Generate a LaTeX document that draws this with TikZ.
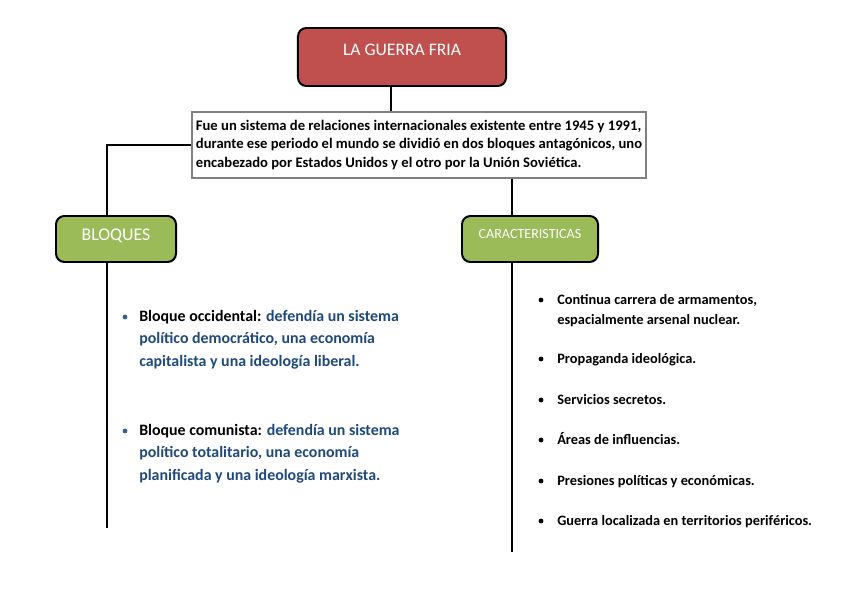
\documentclass[tikz,border=0pt]{standalone}
\usepackage{fontspec}
\setmainfont{Carlito}
\usepackage{tikz}
\usetikzlibrary{positioning}
\definecolor{guerrared}{RGB}{192,80,77}
\definecolor{bloquegreen}{RGB}{155,187,89}
\definecolor{blutext}{RGB}{31,73,125}
\definecolor{bluedot}{RGB}{55,96,146}
\definecolor{descgray}{RGB}{128,128,128}
\tikzset{
    % cajas redondeadas
    titlebox/.style={
        draw=black,
        line width=1.4pt,
        rounded corners=6pt,
        fill=guerrared,
        text=white,
        minimum width=5.2cm,
        minimum height=1.45cm,
        inner sep=0pt,
        font=\fontsize{12.5}{15}\selectfont,
        text height=8pt,
        text depth=10.6pt
    },
    greenbox/.style={
        draw=black,
        line width=1.4pt,
        rounded corners=6pt,
        fill=bloquegreen,
        text=white,
        minimum height=1.15cm,
        inner sep=0pt
    },
    descbox/.style={
        draw=descgray,
        line width=0.9pt,
        fill=white,
        minimum width=11.35cm,
        minimum height=1.65cm,
        align=left,
        inner sep=0pt,
        font=\fontsize{10.4}{13.5}\selectfont\bfseries
    },
    conn/.style={line width=1.3pt, black},
    bul/.style={circle, fill, inner sep=0pt, minimum size=0.12cm},
    lefttext/.style={anchor=north west, inner sep=0pt, align=left,
        font=\fontsize{11.3}{16}\selectfont\bfseries},
    righttext/.style={inner sep=0pt, align=left,
        font=\fontsize{10.2}{14}\selectfont\bfseries}
}
\begin{document}
\begin{tikzpicture}[x=0.025cm,y=-0.025cm]
\useasboundingbox (0,0) rectangle (848,599);

\coordinate (mid) at (391,0);
\coordinate (lft) at (107,0);
\coordinate (rgt) at (512,0);
\coordinate (lftend) at (107,528);
\coordinate (rgtend) at (512,552);

% cajas
\node[titlebox] (guerra) at (402,57) {LA GUERRA FRIA};
\node[descbox] (desc) at (419,145) {Fue un sistema de relaciones internacionales existente entre 1945 y 1991,\\
durante ese periodo el mundo se dividió en dos bloques antagónicos, uno\\
encabezado por Estados Unidos y el otro por la Unión Soviética.};
\node[greenbox, minimum width=3cm, font=\fontsize{12.7}{15}\selectfont,
      text height=8pt, text depth=5.6pt] (bloques) at (116,239) {BLOQUES};
\node[greenbox, minimum width=3.4cm, font=\fontsize{10}{12}\selectfont,
      text height=6pt, text depth=6.6pt] (caract) at (530,239) {CARACTERISTICAS};

% lineas
\draw[conn] (guerra.south -| mid) -- (desc.north -| mid);
\draw[conn] (desc.west) -| (bloques.north -| lft);
\draw[conn] (bloques.south -| lft) -- (lftend);
\draw[conn] (desc.south -| rgt) -- (caract.north -| rgt);
\draw[conn] (caract.south -| rgt) -- (rgtend);

% bloques
\node[bul, bluedot] (b1) at (125,317) {};
\node[lefttext] (occ) at (139,310) {Bloque occidental: {\color{blutext}defendía un sistema}\\
{\color{blutext}político democrático, una economía}\\
{\color{blutext}capitalista y una ideología liberal.}};
\node[bul, bluedot] (b2) at (125,431) {};
\node[lefttext] (com) at (139,424) {Bloque comunista: {\color{blutext}defendía un sistema}\\
{\color{blutext}político totalitario, una economía}\\
{\color{blutext}planificada y una ideología marxista.}};

% caracteristicas
\node[bul] (c1) at (541,300) {};
\node[righttext, anchor=north west] (arm) at (557,294) {Continua carrera de armamentos,\\
espacialmente arsenal nuclear.};
\node[bul] (c2) at (541,359) {};
\node[righttext, anchor=base west] (prop) at (557,363) {Propaganda ideológica.};
\node[bul] (c3) at (541,400) {};
\node[righttext, anchor=base west] (serv) at (557,404) {Servicios secretos.};
\node[bul] (c4) at (541,440) {};
\node[righttext, anchor=base west] (areas) at (557,444) {Áreas de influencias.};
\node[bul] (c5) at (541,481) {};
\node[righttext, anchor=base west] (pres) at (557,485) {Presiones políticas y económicas.};
\node[bul] (c6) at (541,521) {};
\node[righttext, anchor=base west] (loc) at (557,525) {Guerra localizada en territorios periféricos.};

\end{tikzpicture}
\end{document}
